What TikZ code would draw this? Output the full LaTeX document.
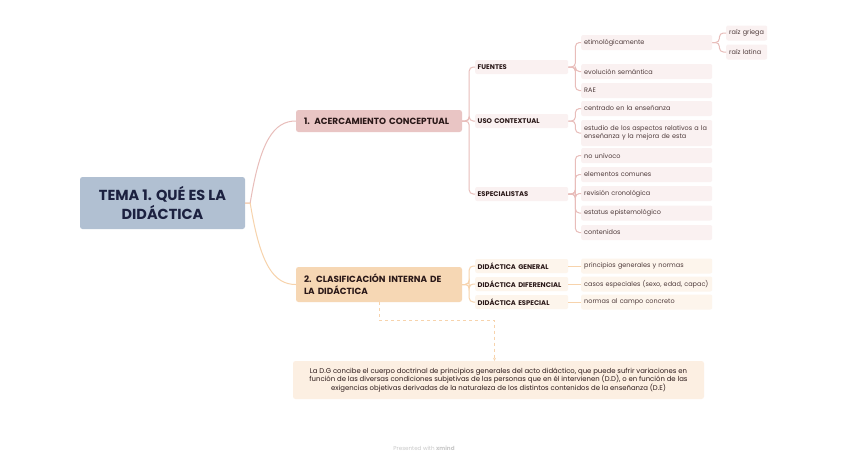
\documentclass[tikz,border=0pt]{standalone}
\usepackage{fontspec}
\setmainfont{Poppins}
\usetikzlibrary{calc,arrows.meta}
\definecolor{rootfill}{HTML}{B1C0D2}
\definecolor{roottext}{HTML}{1C2140}
\definecolor{pinkfill}{HTML}{E9C5C4}
\definecolor{peachfill}{HTML}{F6D7B4}
\definecolor{pinkline}{HTML}{E8BDBA}
\definecolor{peachline}{HTML}{F7D3AC}
\definecolor{pinkleaf}{HTML}{FAF1F1}
\definecolor{peachleaf}{HTML}{FDF5EC}
\definecolor{notefill}{HTML}{FCEFE2}
\definecolor{headtext}{HTML}{2A1818}
\definecolor{leaftext}{HTML}{4E3A3A}
\definecolor{wm}{HTML}{C9C9C9}
\tikzset{
  rootbox/.style={fill=rootfill, rounded corners=2.5pt, minimum width=165pt, minimum height=52pt, align=center, text=roottext, font=\fontsize{14.5}{18.5}\selectfont\bfseries, inner sep=0pt},
  mainbox/.style={rounded corners=2.5pt, minimum width=166pt, text width=150pt, inner xsep=8pt, inner ysep=0pt, align=left, text=headtext, font=\fontsize{8.9}{12}\selectfont\bfseries},
  lvtwo/.style={rounded corners=2pt, anchor=west, minimum height=14pt, text width=88pt, inner xsep=2.5pt, inner ysep=0pt, align=left, text=headtext, font=\fontsize{6.8}{8}\selectfont\bfseries},
  leaf/.style={rounded corners=2pt, anchor=west, minimum height=15pt, text width=125pt, inner xsep=3pt, inner ysep=0pt, align=left, text=leaftext, font=\fontsize{6.5}{8.6}\selectfont},
  pl/.style={fill=pinkleaf},
  el/.style={fill=peachleaf},
  pk/.style={draw=pinkline, line width=1pt, rounded corners=4pt},
  pc/.style={draw=peachline, line width=1pt, rounded corners=4pt},
}
\begin{document}
\begin{tikzpicture}[x=1pt,y=-1pt]
\path[use as bounding box, fill=white] (0,0) rectangle (848,461);

% root and main topics
\node[rootbox] (root) at (162.5,203) {TEMA 1. QUÉ ES LA\\DIDÁCTICA};
\node[mainbox, fill=pinkfill, minimum height=22pt] (m1) at (379,121) {1. ACERCAMIENTO CONCEPTUAL};
\node[mainbox, fill=peachfill, minimum height=35pt] (m2) at (379,284.5) {2. CLASIFICACIÓN INTERNA DE\\LA DIDÁCTICA};

\draw[pinkline, line width=1pt] (root.east) -- ++(5,0) .. controls +(10,-62) and +(-22,0) .. (m1.west);
\draw[peachline, line width=1pt] (root.east) -- ++(5,0) .. controls +(10,62) and +(-22,0) .. (m2.west);

% branch 1 level 2
\node[lvtwo, pl] (fu) at (475,67) {FUENTES};
\node[lvtwo, pl] (uc) at (475,121) {USO CONTEXTUAL};
\node[lvtwo, pl] (es) at (475,194) {ESPECIALISTAS};
\foreach \c in {fu,uc,es} \draw[pk] (m1.east) -- ++(7,0) |- (\c.west);

% leaves of FUENTES
\node[leaf, pl] (et) at (581,42.5) {etimológicamente};
\node[leaf, pl] (ev) at (581,71.5) {evolución semántica};
\node[leaf, pl] (ra) at (581,90.5) {RAE};
\foreach \c in {et,ev,ra} \draw[pk] (fu.east) -- ++(7,0) |- (\c.west);

\node[leaf, pl, text width=35pt] (gr) at (726,33) {raíz griega};
\node[leaf, pl, text width=35pt] (la) at (726,52) {raíz latina};
\foreach \c in {gr,la} \draw[pk] (et.east) -- ++(7,0) |- (\c.west);

% leaves of USO CONTEXTUAL
\node[leaf, pl] (ce) at (581,108.5) {centrado en la enseñanza};
\node[leaf, pl, minimum height=26pt] (est) at (581,133) {estudio de los aspectos relativos a la\\enseñanza y la mejora de esta};
\foreach \c in {ce,est} \draw[pk] (uc.east) -- ++(7,0) |- (\c.west);

% leaves of ESPECIALISTAS
\node[leaf, pl] (nu) at (581,155.5) {no unívoco};
\node[leaf, pl] (ec) at (581,174.5) {elementos comunes};
\node[leaf, pl] (rc) at (581,193.5) {revisión cronológica};
\node[leaf, pl] (ee) at (581,213) {estatus epistemológico};
\node[leaf, pl] (co) at (581,232.5) {contenidos};
\foreach \c in {nu,ec,rc,ee,co} \draw[pk] (es.east) -- ++(7,0) |- (\c.west);

% branch 2
\node[lvtwo, el] (dg) at (475,266) {DIDÁCTICA GENERAL};
\node[lvtwo, el] (dd) at (475,284) {DIDÁCTICA DIFERENCIAL};
\node[lvtwo, el] (de) at (475,302) {DIDÁCTICA ESPECIAL};
\foreach \c in {dg,dd,de} \draw[pc] (m2.east) -- ++(7,0) |- (\c.west);

\node[leaf, el] (pg) at (581,266) {principios generales y normas};
\node[leaf, el] (cs) at (581,284) {casos especiales (sexo, edad, capac)};
\node[leaf, el] (nc) at (581,302) {normas al campo concreto};
\draw[pc] (dg.east) -- (pg.west);
\draw[pc] (dd.east) -- (cs.west);
\draw[pc] (de.east) -- (nc.west);

% note
\node[fill=notefill, rounded corners=2.5pt, minimum width=411pt, minimum height=38pt, inner sep=0pt, align=center, text=headtext, font=\fontsize{6.9}{8.6}\selectfont] (note) at (498.5,380) {La D.G concibe el cuerpo doctrinal de principios generales del acto didáctico, que puede sufrir variaciones en\\función de las diversas condiciones subjetivas de las personas que en él intervienen (D.D), o en función de las\\exigencias objetivas derivadas de la naturaleza de los distintos contenidos de la enseñanza (D.E)};
\draw[peachline, line width=0.8pt, dashed, -{Stealth[length=3pt,width=3pt]}] (m2.south) -- ++(0,18) -| ($(note.north)+(-4,0)$);

% watermark
\node[text=wm, font=\fontsize{5.6}{6.5}\selectfont] (wmk) at (424,448) {Presented with \textbf{xmind}};
\end{tikzpicture}
\end{document}
